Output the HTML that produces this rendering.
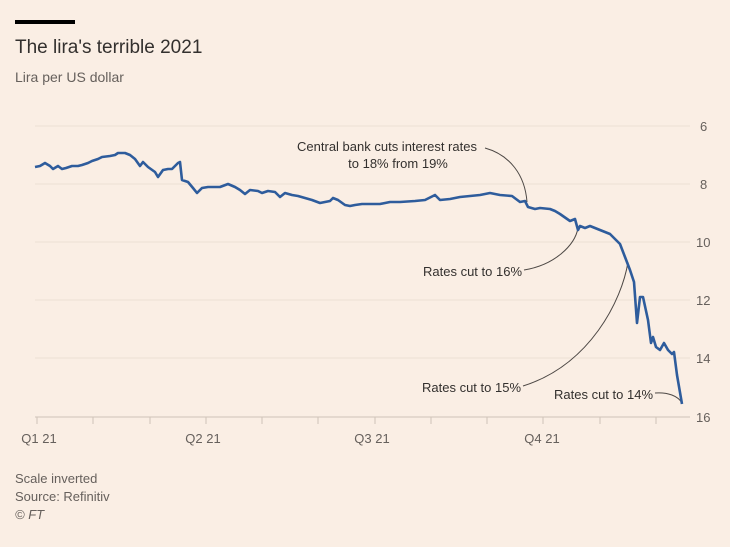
<!DOCTYPE html>
<html><head><style>
body{margin:0;background:#faeee4;}
svg{display:block;font-family:"Liberation Sans",sans-serif;}
</style></head><body>
<svg width="730" height="547" viewBox="0 0 730 547">
<rect width="730" height="547" fill="#faeee4"/>
<rect x="15" y="20" width="60" height="4" fill="#000"/>
<text x="15" y="53" font-size="19" fill="#33302e">The lira's terrible 2021</text>
<text x="15" y="82" font-size="14" fill="#66605c">Lira per US dollar</text>
<g stroke="#ece0d5" stroke-width="1">
<line x1="35" x2="690" y1="126" y2="126"/><line x1="35" x2="690" y1="184" y2="184"/>
<line x1="35" x2="690" y1="242" y2="242"/><line x1="35" x2="690" y1="300" y2="300"/>
<line x1="35" x2="690" y1="358" y2="358"/>
</g>
<line x1="35" x2="690" y1="417" y2="417" stroke="#cfc3b8"/>
<g stroke="#cfc3b8">
<line x1="37" x2="37" y1="417" y2="424"/><line x1="93" x2="93" y1="417" y2="424"/><line x1="150" x2="150" y1="417" y2="424"/><line x1="206" x2="206" y1="417" y2="424"/><line x1="262" x2="262" y1="417" y2="424"/><line x1="318" x2="318" y1="417" y2="424"/><line x1="375" x2="375" y1="417" y2="424"/><line x1="431" x2="431" y1="417" y2="424"/><line x1="487" x2="487" y1="417" y2="424"/><line x1="543" x2="543" y1="417" y2="424"/><line x1="600" x2="600" y1="417" y2="424"/><line x1="656" x2="656" y1="417" y2="424"/>
</g>
<g font-size="13" fill="#66605c" text-anchor="middle">
<text x="39" y="443">Q1 21</text><text x="203" y="443">Q2 21</text><text x="372" y="443">Q3 21</text><text x="542" y="443">Q4 21</text>
</g>
<g font-size="13" fill="#66605c">
<text x="700" y="131">6</text><text x="700" y="189">8</text><text x="696" y="247">10</text><text x="696" y="305">12</text><text x="696" y="363">14</text><text x="696" y="422">16</text>
</g>
<g fill="none" stroke="#4d4845" stroke-width="1">
<path d="M485,148 C510,155 525,175 527,202"/>
<path d="M524,270 C555,265 575,245 578,228"/>
<path d="M523,386 C590,365 622,300 628,262"/>
<path d="M655,393 C668,392 678,396 682,403"/>
</g>
<path fill="none" stroke="#2e5c9c" stroke-width="2.6" stroke-linejoin="round" d="M35,167 L40,166 45,163 50,166 53,169 58,166 62,169 66,168 72,166 78,166 82,165 88,163 92,161 98,159 102,157 110,156 115,155 118,153 125,153 130,155 135,159 140,166 143,162 148,167 155,172 158,177 163,170 168,169 172,169 178,163 180,162 182,180 188,182 193,188 197,193 202,188 208,187 215,187 220,187 228,184 235,187 240,190 245,194 250,190 258,191 262,193 268,191 275,192 280,197 285,193 292,195 298,196 305,198 312,200 320,203 330,201 333,198 338,200 345,205 350,206 355,205 362,204 370,204 380,204 390,202 400,202 415,201 425,200 435,195 440,200 450,199 460,197 470,196 480,195 490,193 500,195 512,196 520,202 525,201 528,207 535,209 540,208 550,209 555,211 560,214 570,221 575,219 578,230 580,226 585,228 590,226 600,230 610,234 616,240 620,244 625,257 630,270 634,282 637,323 640,297 643,297 648,320 651,343 653,337 656,347 660,350 664,343 668,350 672,354 674,352 677,375 682,404"/>
<g font-size="13" fill="#33302e">
<text x="387" y="151" text-anchor="middle">Central bank cuts interest rates</text>
<text x="398" y="168" text-anchor="middle">to 18% from 19%</text>
<text x="522" y="276" text-anchor="end">Rates cut to 16%</text>
<text x="521" y="392" text-anchor="end">Rates cut to 15%</text>
<text x="653" y="399" text-anchor="end">Rates cut to 14%</text>
</g>
<g font-size="13" fill="#66605c">
<text x="15" y="483">Scale inverted</text>
<text x="15" y="501">Source: Refinitiv</text>
<text x="15" y="519" font-style="italic">© FT</text>
</g>
</svg>
</body></html>
